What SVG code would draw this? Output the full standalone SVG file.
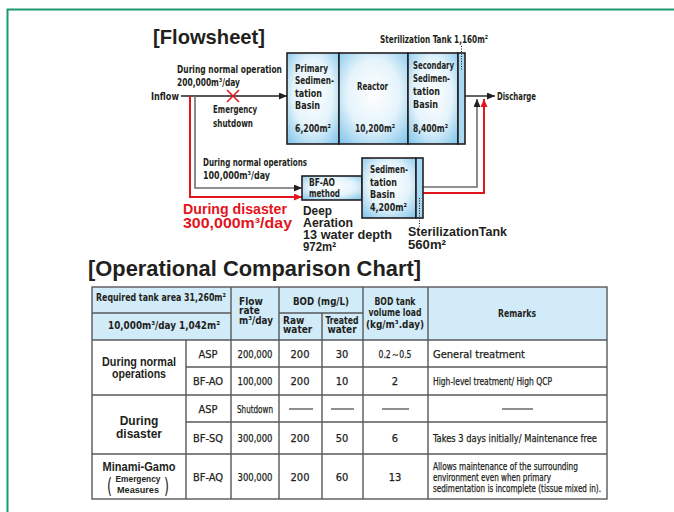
<svg xmlns="http://www.w3.org/2000/svg" width="674" height="512" viewBox="0 0 674 512">
<style>
.c{font-family:"Liberation Sans Narrow","DejaVu Sans Condensed","Liberation Sans",sans-serif;font-weight:bold;font-size:10.5px;fill:#231f20}
.h{font-family:"Liberation Sans Narrow","DejaVu Sans Condensed","Liberation Sans",sans-serif;font-weight:bold;font-size:10px;fill:#231f20}
.cn{font-family:"Liberation Sans Narrow","DejaVu Sans Condensed","Liberation Sans",sans-serif;font-weight:normal;font-size:11px;fill:#231f20;stroke:#231f20;stroke-width:0.25}
.g{font-family:"Liberation Sans","DejaVu Sans",sans-serif;font-weight:bold;fill:#231f20}
.m{text-anchor:middle}
.basin{fill:url(#bg);stroke:#231f20;stroke-width:1.6}
.strip{fill:#a9d9f2;stroke:#231f20;stroke-width:1.6}
.gl{fill:none;stroke:#6d6e71;stroke-width:1.6}
.rl{fill:none;stroke:#e3141c;stroke-width:2}
.bl{fill:none;stroke:#231f20;stroke-width:1.4}
.dot{fill:none;stroke:#231f20;stroke-width:1;stroke-dasharray:1 1.5}
.tl{fill:none;stroke:#58595b;stroke-width:1.4}
</style>
<defs>
<radialGradient id="bg" cx="50%" cy="45%" r="70%">
<stop offset="0" stop-color="#ffffff"/>
<stop offset="0.55" stop-color="#e4f3fb"/>
<stop offset="1" stop-color="#86c8ec"/>
</radialGradient>
<marker id="ak" markerUnits="userSpaceOnUse" markerWidth="8" markerHeight="7" refX="8" refY="3.5" orient="auto"><path d="M0,0 L8,3.5 L0,7 z" fill="#231f20"/></marker>
<marker id="ar" markerUnits="userSpaceOnUse" markerWidth="8" markerHeight="7" refX="8" refY="3.5" orient="auto"><path d="M0,0 L8,3.5 L0,7 z" fill="#e3141c"/></marker>
</defs>
<rect x="0" y="0" width="674" height="512" fill="#ffffff"/>
<path d="M7.5,512 V9.5 H674" fill="none" stroke="#1b9a6c" stroke-width="2"/>

<text class="g" x="153" y="44" font-size="21" textLength="112" lengthAdjust="spacingAndGlyphs">[Flowsheet]</text>

<g id="connectors">
<path class="bl" d="M181,96 H287" marker-end="url(#ak)"/>
<path class="gl" d="M195,96 V188 H302" marker-end="url(#ak)"/>
<path class="rl" d="M190,96 V197 H302" marker-end="url(#ar)"/>
<path class="gl" d="M423,187 H477 V99" marker-end="url(#ak)"/>
<path class="rl" d="M423,193 H484 V99" marker-end="url(#ar)"/>
<path class="bl" d="M465,96 H495" marker-end="url(#ak)"/>
<path d="M227,90 L239,102 M239,90 L227,102" stroke="#e3141c" stroke-width="1.5" fill="none"/>
</g>

<g id="main-tank">
<rect class="basin" x="287" y="53" width="52" height="91"/>
<rect class="basin" x="339" y="53" width="69" height="91"/>
<rect class="basin" x="408" y="53" width="50" height="91"/>
<rect class="strip" x="458" y="53" width="7" height="91"/>
<path class="dot" d="M461.5,46 V70"/>
</g>
<g id="primary">
<text class="c" x="295" y="72" textLength="33" lengthAdjust="spacingAndGlyphs">Primary</text>
<text class="c" x="295" y="84" textLength="39" lengthAdjust="spacingAndGlyphs">Sedimen-</text>
<text class="c" x="295" y="97" textLength="27" lengthAdjust="spacingAndGlyphs">tation</text>
<text class="c" x="295" y="109" textLength="25" lengthAdjust="spacingAndGlyphs">Basin</text>
<text class="c" x="295" y="132" textLength="36" lengthAdjust="spacingAndGlyphs">6,200m²</text>
</g>
<g id="reactor">
<text class="c" x="357" y="90" textLength="31" lengthAdjust="spacingAndGlyphs">Reactor</text>
<text class="c" x="355" y="132" textLength="40" lengthAdjust="spacingAndGlyphs">10,200m²</text>
</g>
<g id="secondary">
<text class="c" x="413" y="69" textLength="41" lengthAdjust="spacingAndGlyphs">Secondary</text>
<text class="c" x="413" y="82" textLength="37" lengthAdjust="spacingAndGlyphs">Sedimen-</text>
<text class="c" x="413" y="95" textLength="27" lengthAdjust="spacingAndGlyphs">tation</text>
<text class="c" x="413" y="108" textLength="25" lengthAdjust="spacingAndGlyphs">Basin</text>
<text class="c" x="413" y="132" textLength="35" lengthAdjust="spacingAndGlyphs">8,400m²</text>
</g>
<g id="labels-top">
<text class="c" x="380" y="43" textLength="108" lengthAdjust="spacingAndGlyphs">Sterilization Tank 1,160m²</text>
<text class="c" x="497" y="100" textLength="39" lengthAdjust="spacingAndGlyphs">Discharge</text>
<text class="c" x="151" y="100" textLength="28" lengthAdjust="spacingAndGlyphs">Inflow</text>
<text class="c" x="177" y="73" textLength="105" lengthAdjust="spacingAndGlyphs">During normal operation</text>
<text class="c" x="177" y="86" textLength="63" lengthAdjust="spacingAndGlyphs">200,000m³/day</text>
<text class="c" x="213" y="113" textLength="44" lengthAdjust="spacingAndGlyphs">Emergency</text>
<text class="c" x="213" y="127" textLength="40" lengthAdjust="spacingAndGlyphs">shutdown</text>
</g>

<g id="bfao">
<rect class="basin" x="302" y="176" width="60" height="24"/>
<text class="h" x="309" y="186" textLength="26" lengthAdjust="spacingAndGlyphs">BF-AO</text>
<text class="h" x="309" y="197" textLength="31" lengthAdjust="spacingAndGlyphs">method</text>
</g>
<g id="lower-sedimentation">
<rect class="basin" x="362" y="158" width="54" height="60"/>
<rect class="strip" x="416" y="158" width="7" height="60"/>
<path class="dot" d="M419.5,198 V227"/>
<text class="c" x="370" y="173" textLength="38" lengthAdjust="spacingAndGlyphs">Sedimen-</text>
<text class="c" x="370" y="186" textLength="27" lengthAdjust="spacingAndGlyphs">tation</text>
<text class="c" x="370" y="198" textLength="25" lengthAdjust="spacingAndGlyphs">Basin</text>
<text class="c" x="370" y="211" textLength="37" lengthAdjust="spacingAndGlyphs">4,200m²</text>
</g>
<g id="labels-lower">
<text class="c" x="203" y="166" textLength="104" lengthAdjust="spacingAndGlyphs">During normal operations</text>
<text class="c" x="203" y="179" textLength="67" lengthAdjust="spacingAndGlyphs">100,000m³/day</text>
<text class="g" x="183" y="214" font-size="15" style="fill:#e3141c" textLength="104" lengthAdjust="spacingAndGlyphs">During disaster</text>
<text class="g" x="183" y="228" font-size="15" style="fill:#e3141c" textLength="109" lengthAdjust="spacingAndGlyphs">300,000m³/day</text>
<text class="g" x="303" y="215" font-size="13" textLength="29" lengthAdjust="spacingAndGlyphs">Deep</text>
<text class="g" x="303" y="227" font-size="13" textLength="50" lengthAdjust="spacingAndGlyphs">Aeration</text>
<text class="g" x="303" y="239" font-size="13" textLength="89" lengthAdjust="spacingAndGlyphs">13 water depth</text>
<text class="g" x="303" y="251" font-size="13" textLength="33" lengthAdjust="spacingAndGlyphs">972m²</text>
<text class="g" x="408" y="236" font-size="13" textLength="99" lengthAdjust="spacingAndGlyphs">SterilizationTank</text>
<text class="g" x="408" y="249" font-size="13" textLength="38" lengthAdjust="spacingAndGlyphs">560m²</text>
</g>

<text class="g" x="88" y="276" font-size="22" textLength="333" lengthAdjust="spacingAndGlyphs">[Operational Comparison Chart]</text>

<g id="table">
<rect x="92" y="287" width="515" height="53" fill="#d2ebf8"/>
<rect class="tl" x="92" y="287" width="515" height="212" stroke-width="1.8"/>
<path class="tl" d="M186,340 V499 M231,287 V499 M279,287 V499 M322,313 V499 M363,287 V499 M428,287 V499 M92,313 H231 M279,313 H363 M92,340 H607 M186,367 H607 M92,395 H607 M186,422 H607 M92,454 H607"/>
<text class="c m" x="161" y="301" textLength="130" lengthAdjust="spacingAndGlyphs">Required tank area 31,260m²</text>
<text class="c m" x="164" y="329" textLength="112" lengthAdjust="spacingAndGlyphs">10,000m³/day 1,042m²</text>
<text class="h" x="239" y="305">Flow</text>
<text class="h" x="239" y="314">rate</text>
<text class="h" x="239" y="324" textLength="34" lengthAdjust="spacingAndGlyphs">m³/day</text>
<text class="c m" x="321" y="305" textLength="56" lengthAdjust="spacingAndGlyphs">BOD (mg/L)</text>
<text class="h" x="283" y="324">Raw</text>
<text class="h" x="283" y="333">water</text>
<text class="h m" x="342" y="324" textLength="33" lengthAdjust="spacingAndGlyphs">Treated</text>
<text class="h m" x="342" y="333">water</text>
<text class="h m" x="395" y="305" textLength="41" lengthAdjust="spacingAndGlyphs">BOD tank</text>
<text class="h m" x="395" y="316" textLength="53" lengthAdjust="spacingAndGlyphs">volume load</text>
<text class="h m" x="395" y="328" textLength="58" lengthAdjust="spacingAndGlyphs">(kg/m³.day)</text>
<text class="c m" x="517" y="317" textLength="38" lengthAdjust="spacingAndGlyphs">Remarks</text>

<g id="row-normal">
<text class="g m" x="139" y="366" font-size="12" textLength="74" lengthAdjust="spacingAndGlyphs">During normal</text>
<text class="g m" x="139" y="378" font-size="12" textLength="54" lengthAdjust="spacingAndGlyphs">operations</text>
<text class="cn m" x="208" y="358">ASP</text>
<text class="cn m" x="255" y="358" textLength="35" lengthAdjust="spacingAndGlyphs">200,000</text>
<text class="cn m" x="300" y="358">200</text>
<text class="cn m" x="342" y="358">30</text>
<text class="cn m" x="395" y="358" textLength="33" lengthAdjust="spacingAndGlyphs">0.2～0.5</text>
<text class="cn" x="433" y="358" textLength="92" lengthAdjust="spacingAndGlyphs">General treatment</text>
<text class="cn m" x="208" y="385">BF-AO</text>
<text class="cn m" x="255" y="385" textLength="35" lengthAdjust="spacingAndGlyphs">100,000</text>
<text class="cn m" x="300" y="385">200</text>
<text class="cn m" x="342" y="385">10</text>
<text class="cn m" x="395" y="385">2</text>
<text class="cn" x="433" y="385" textLength="119" lengthAdjust="spacingAndGlyphs">High-level treatment/ High QCP</text>
</g>
<g id="row-disaster">
<text class="g m" x="139" y="425" font-size="12">During</text>
<text class="g m" x="139" y="438" font-size="12">disaster</text>
<text class="cn m" x="208" y="413">ASP</text>
<text class="cn m" x="255" y="413" textLength="36" lengthAdjust="spacingAndGlyphs">Shutdown</text>
<path d="M289,409 H313 M331,409 H354 M382,409 H409 M502,409 H533" stroke="#231f20" stroke-width="1.2" fill="none"/>
<text class="cn m" x="208" y="442">BF-SQ</text>
<text class="cn m" x="255" y="442" textLength="35" lengthAdjust="spacingAndGlyphs">300,000</text>
<text class="cn m" x="300" y="442">200</text>
<text class="cn m" x="342" y="442">50</text>
<text class="cn m" x="395" y="442">6</text>
<text class="cn" x="433" y="442" textLength="164" lengthAdjust="spacingAndGlyphs">Takes 3 days initially/ Maintenance free</text>
</g>
<g id="row-minami">
<text class="g m" x="139" y="471" font-size="12" textLength="73" lengthAdjust="spacingAndGlyphs">Minami-Gamo</text>
<text class="g m" x="138" y="482" font-size="9.5" textLength="45" lengthAdjust="spacingAndGlyphs">Emergency</text>
<text class="g m" x="138" y="493" font-size="9.5" textLength="42" lengthAdjust="spacingAndGlyphs">Measures</text>
<text x="107" y="493" font-family="DejaVu Sans, sans-serif" font-size="22" fill="#231f20" textLength="5" lengthAdjust="spacingAndGlyphs">(</text>
<text x="164" y="493" font-family="DejaVu Sans, sans-serif" font-size="22" fill="#231f20" textLength="5" lengthAdjust="spacingAndGlyphs">)</text>
<text class="cn m" x="208" y="481">BF-AQ</text>
<text class="cn m" x="255" y="481" textLength="35" lengthAdjust="spacingAndGlyphs">300,000</text>
<text class="cn m" x="300" y="481">200</text>
<text class="cn m" x="342" y="481">60</text>
<text class="cn m" x="395" y="481">13</text>
<text class="cn" x="433" y="470" font-size="10" textLength="145" lengthAdjust="spacingAndGlyphs">Allows maintenance of the surrounding</text>
<text class="cn" x="433" y="481" font-size="10" textLength="118" lengthAdjust="spacingAndGlyphs">environment even when primary</text>
<text class="cn" x="433" y="492" font-size="10" textLength="168" lengthAdjust="spacingAndGlyphs">sedimentation is incomplete (tissue mixed in).</text>
</g>
</g>
</svg>
